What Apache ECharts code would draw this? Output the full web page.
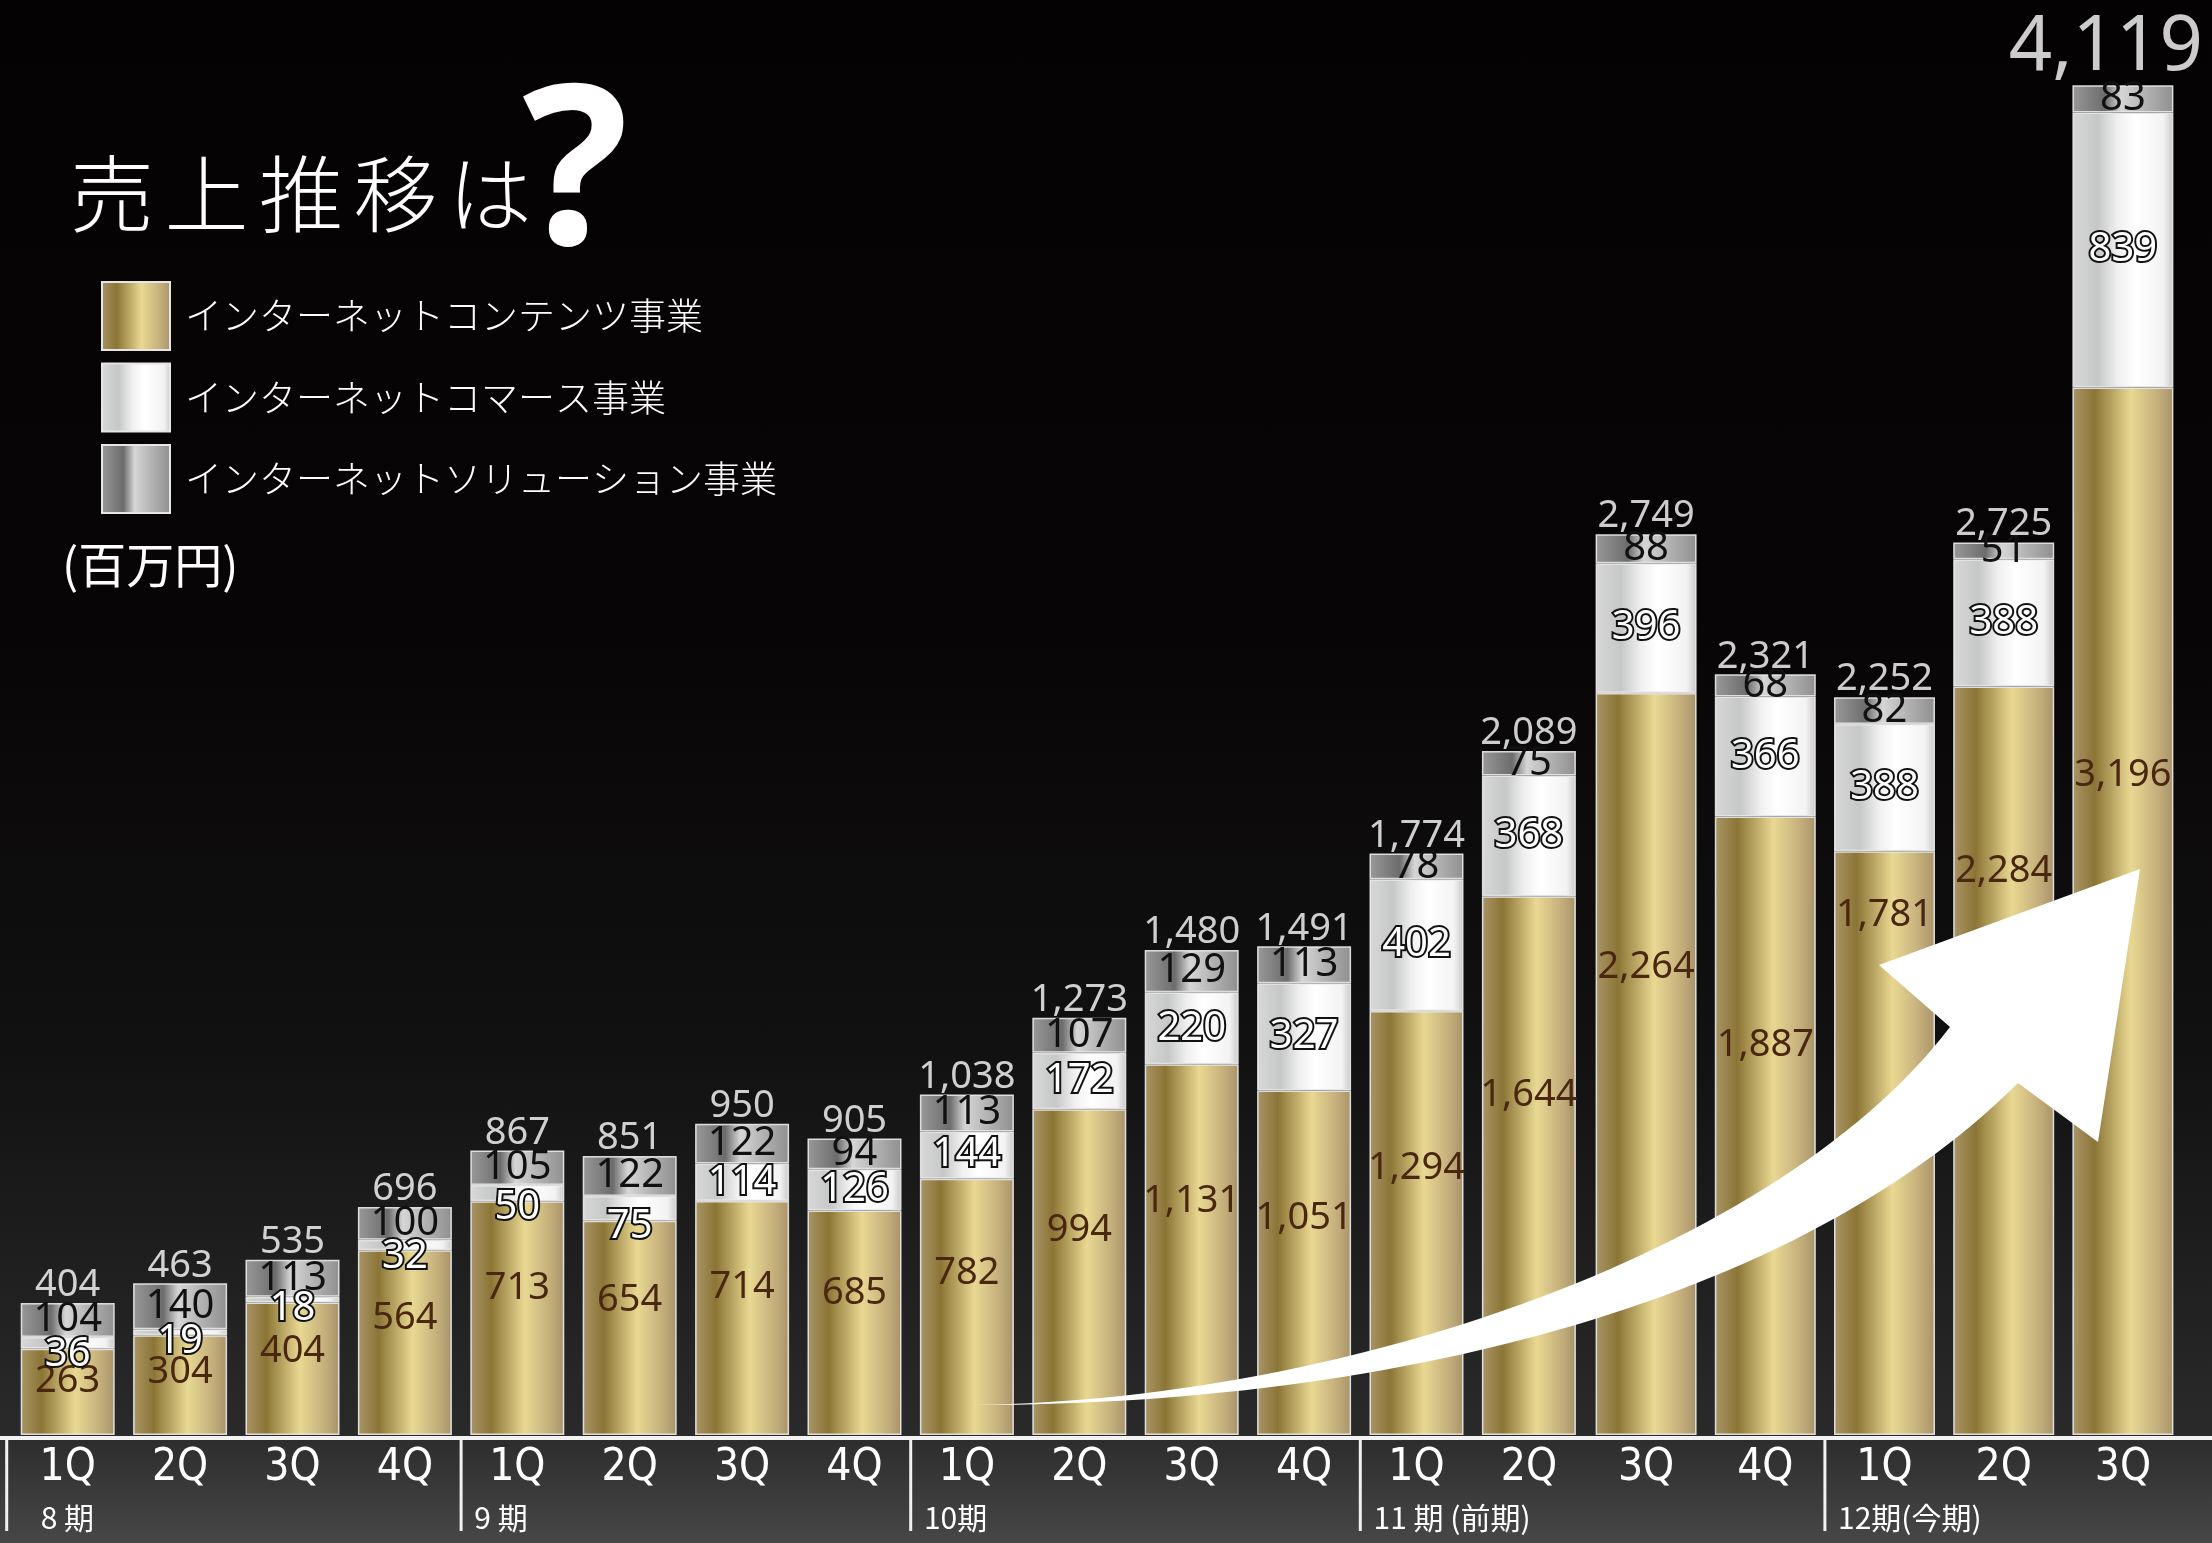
<!DOCTYPE html>
<html lang="ja">
<head>
<meta charset="utf-8">
<title>売上推移</title>
<script src="https://cdn.jsdelivr.net/npm/echarts@6/dist/echarts.min.js"></script>
<style>
  html, body { margin: 0; padding: 0; }
  #chart {
    width: 2212px; height: 1543px;
    background: linear-gradient(to bottom,
      #040202 0px, #070505 620px, #121111 1050px, #2a2a2a 1436px,
      #2d2d2d 1440px, #474747 1543px);
  }
</style>
</head>
<body>
<div id="chart"></div>
<script>
// Quarter labels along the bottom
const quarters = ['1Q','2Q','3Q','4Q','1Q','2Q','3Q','4Q','1Q','2Q','3Q','4Q','1Q','2Q','3Q','4Q','1Q','2Q','3Q'];
// Fiscal periods and the quarter index where each one starts
const periodNames = ['8 期', '9 期', '10期', '11 期 (前期)', '12期(今期)'];
const periodStarts = [0, 4, 8, 12, 16];

// Sales by segment (百万円)
const contents = [263, 304, 404, 564, 713, 654, 714, 685, 782, 994, 1131, 1051, 1294, 1644, 2264, 1887, 1781, 2284, 3196];
const commerce = [36, 19, 18, 32, 50, 75, 114, 126, 144, 172, 220, 327, 402, 368, 396, 366, 388, 388, 839];
const solution = [104, 140, 113, 100, 105, 122, 122, 94, 113, 107, 129, 113, 78, 75, 88, 68, 82, 51, 83];
const totals = [404, 463, 535, 696, 867, 851, 950, 905, 1038, 1273, 1480, 1491, 1774, 2089, 2749, 2321, 2252, 2725, 4119];

const seriesNames = ['インターネットコンテンツ事業', 'インターネットコマース事業', 'インターネットソリューション事業'];

// The last five quarters sit in a slightly wider second grid
const SPLIT = 14;

const NUM_FONT = "'Noto Sans', 'DejaVu Sans', sans-serif";
const JP_FONT = "'Noto Sans CJK JP', 'Noto Sans', sans-serif";
const NARROW_FONT = "'Liberation Sans Narrow', 'DejaVu Sans Condensed', 'Roboto Condensed', 'Noto Sans', sans-serif";

const LG = echarts.graphic.LinearGradient;
const goldFill = new LG(0, 0, 1, 0, [
  { offset: 0, color: '#a99567' }, { offset: 0.22, color: '#8b7536' },
  { offset: 0.58, color: '#e9d892' }, { offset: 0.85, color: '#c3ae7b' },
  { offset: 1, color: '#a8936a' }
]);
const whiteFill = new LG(0, 0, 1, 0, [
  { offset: 0, color: '#d8d8d8' }, { offset: 0.25, color: '#c6c7c7' },
  { offset: 0.45, color: '#f0f0f0' }, { offset: 0.62, color: '#ffffff' },
  { offset: 0.9, color: '#f3f3f3' }, { offset: 1, color: '#c8c8c8' }
]);
const grayFill = new LG(0, 0, 1, 0, [
  { offset: 0, color: '#999999' }, { offset: 0.32, color: '#6c6c6c' },
  { offset: 0.48, color: '#d6d6d6' }, { offset: 0.72, color: '#b3b3b3' },
  { offset: 1, color: '#8f8f8f' }
]);

const fmt = v => Number(v).toLocaleString('en-US');
const maxTotal = Math.max(...totals);

// Growth arrow outline (decoration), sampled from two cubic curves plus the head
function cubicPts(p0, p1, p2, p3, n) {
  const pts = [];
  for (let k = 0; k <= n; k++) {
    const t = k / n, u = 1 - t;
    const a = u * u * u, b = 3 * u * u * t, c = 3 * u * t * t, d = t * t * t;
    pts.push([a * p0[0] + b * p1[0] + c * p2[0] + d * p3[0], a * p0[1] + b * p1[1] + c * p2[1] + d * p3[1]]);
  }
  return pts;
}
const arrowPts = []
  .concat(cubicPts([972, 1405], [1400, 1405], [1800, 1300], [2018, 1083], 60))
  .concat([[2098, 1142], [2140, 869], [1879, 965]])
  .concat(cubicPts([1950, 1027], [1780, 1250], [1350, 1400], [972, 1405], 60));

function insideArrow(x, y) {
  let inside = false;
  for (let i = 0, j = arrowPts.length - 1; i < arrowPts.length; j = i++) {
    const xi = arrowPts[i][0], yi = arrowPts[i][1], xj = arrowPts[j][0], yj = arrowPts[j][1];
    if ((yi > y) !== (yj > y) && x < (xj - xi) * (y - yi) / (yj - yi) + xi) inside = !inside;
  }
  return inside;
}
function boxHitsArrow(x, y, w, h) {
  const m = 6;
  const xs = [x - m, x + w / 2, x + w + m], ys = [y - m, y + h / 2, y + h + m];
  return xs.some(px => ys.some(py => insideArrow(px, py)));
}

const barWidths = [94, 101];
const barBorder = { borderColor: 'rgba(236,236,236,0.9)', borderWidth: 1.5 };

function seriesFor(g, from, to) {
  const common = { type: 'bar', xAxisIndex: g, yAxisIndex: g, stack: 'sales' + g, barWidth: barWidths[g] };
  return [
    Object.assign({}, common, {
      name: seriesNames[0], data: contents.slice(from, to),
      itemStyle: Object.assign({ color: goldFill }, barBorder),
      label: {
        show: true, position: ['50%', '37%'], align: 'center', verticalAlign: 'middle',
        color: '#4a2810', fontSize: 38, fontFamily: NUM_FONT,
        formatter: p => fmt(p.value)
      },
      // keep the figures clear of the arrow: slide them up above its edge
      labelLayout: function (p) {
        const r = p.labelRect;
        let y = r.y;
        while (boxHitsArrow(r.x, y, r.width, r.height) && y > p.rect.y + 8) y -= 4;
        if (y === r.y) return {};
        return { y: y + r.height / 2, verticalAlign: 'middle', align: 'center' };
      }
    }),
    Object.assign({}, common, {
      name: seriesNames[1], data: commerce.slice(from, to),
      itemStyle: Object.assign({ color: whiteFill }, barBorder),
      label: {
        show: true, position: 'inside', color: '#ffffff', fontSize: 40,
        fontFamily: NUM_FONT, textBorderColor: '#111111', textBorderWidth: 4
      },
      // thin segments: let the number hang just below the segment
      labelLayout: function (p) {
        if (p.rect.height < 30) {
          return { y: p.rect.y + p.rect.height + 6, verticalAlign: 'middle', align: 'center' };
        }
        return {};
      }
    }),
    Object.assign({}, common, {
      name: seriesNames[2], data: solution.slice(from, to),
      itemStyle: Object.assign({ color: grayFill }, barBorder),
      label: { show: true, position: 'inside', color: '#111111', fontSize: 40, fontFamily: NUM_FONT }
    }),
    {
      name: 'total', type: 'scatter', xAxisIndex: g, yAxisIndex: g,
      data: totals.slice(from, to), symbolSize: 1, itemStyle: { color: 'transparent' },
      silent: true, z: 5,
      label: {
        show: true, position: 'top', distance: -2,
        formatter: p => (p.value === maxTotal ? '{big|' : '{n|') + fmt(p.value) + '}',
        rich: {
          n: { color: '#ffffff', fontSize: 38, fontFamily: NUM_FONT },
          big: { color: '#ffffff', fontSize: 76, fontFamily: NUM_FONT, padding: [0, 34, 0, 0] }
        }
      }
    }
  ];
}

const xAxisCommon = {
  type: 'category',
  axisLine: { show: false }, axisTick: { show: false }, splitLine: { show: false },
  axisLabel: { color: '#ffffff', fontSize: 44, fontFamily: NARROW_FONT, margin: 12, interval: 0 }
};
const yAxisCommon = { type: 'value', min: 0, max: maxTotal, show: false, splitLine: { show: false } };

const chart = echarts.init(document.getElementById('chart'), null, { renderer: 'canvas' });

chart.setOption({
  backgroundColor: 'transparent',
  animation: false,
  legend: {
    orient: 'vertical', left: 96, top: 276,
    itemWidth: 68, itemHeight: 68, itemGap: 11.5, icon: 'rect',
    itemStyle: { borderColor: '#e6e6e6', borderWidth: 2 },
    textStyle: { color: '#ffffff', fontSize: 37, fontFamily: JP_FONT, fontWeight: 300, padding: [0, 0, 0, 10] },
    data: seriesNames, selectedMode: false
  },
  grid: [
    { left: 11.5, top: 85, width: 1573.6, height: 1350 },
    { left: 1586.5, top: 85, width: 596, height: 1350 }
  ],
  xAxis: [
    Object.assign({ gridIndex: 0, data: quarters.slice(0, SPLIT) }, xAxisCommon),
    Object.assign({ gridIndex: 1, data: quarters.slice(SPLIT) }, xAxisCommon)
  ],
  yAxis: [
    Object.assign({ gridIndex: 0 }, yAxisCommon),
    Object.assign({ gridIndex: 1 }, yAxisCommon)
  ],
  series: seriesFor(0, 0, SPLIT).concat(seriesFor(1, SPLIT, quarters.length))
});

// pixel centre of quarter i on its own axis
function qx(i) {
  return i < SPLIT
    ? chart.convertToPixel({ xAxisIndex: 0 }, i)
    : chart.convertToPixel({ xAxisIndex: 1 }, i - SPLIT);
}
function halfBar(i) { return barWidths[i < SPLIT ? 0 : 1] / 2; }

const AXIS_Y = 1436;
const graphics = [];

// white baseline under the bars
graphics.push({ type: 'rect', shape: { x: 0, y: AXIS_Y, width: 2212, height: 4 }, style: { fill: '#f2f2f2' }, z: 1 });

// period separators and period names
periodStarts.forEach((s, k) => {
  const sepX = s === 0 ? qx(0) - 61 : (qx(s - 1) + qx(s)) / 2;
  graphics.push({ type: 'rect', shape: { x: sepX - 1.5, y: AXIS_Y, width: 3, height: 95 }, style: { fill: '#f2f2f2' }, z: 1 });
  const lx = s === 0 ? qx(0) - halfBar(0) + 20 : qx(s) - halfBar(s) + 4;
  graphics.push({
    type: 'text', x: lx, y: 1518, z: 1,
    style: { text: periodNames[k], fill: '#ffffff', fontSize: 30, fontFamily: JP_FONT, align: 'left', verticalAlign: 'middle' }
  });
});

// heading
const heading = '売上推移は';
for (let i = 0; i < heading.length; i++) {
  graphics.push({
    type: 'text', x: 70 + i * 94.5, y: 194, z: 1,
    style: { text: heading[i], fill: '#ffffff', fontSize: 84, fontFamily: JP_FONT, fontWeight: 300, align: 'left', verticalAlign: 'middle' }
  });
}
graphics.push({
  type: 'text', x: 522, y: 181, z: 1,
  style: { text: '?', fill: '#ffffff', fontSize: 222, fontFamily: NUM_FONT, fontWeight: 'bold', align: 'left', verticalAlign: 'middle' }
});

// unit note
graphics.push({
  type: 'text', x: 62, y: 565, z: 1,
  style: { text: '(百万円)', fill: '#ffffff', fontSize: 48, fontFamily: JP_FONT, align: 'left', verticalAlign: 'middle' }
});

// the arrow itself
graphics.push({ type: 'polygon', z: 50, shape: { points: arrowPts }, style: { fill: '#ffffff' } });

chart.setOption({ graphic: graphics });
</script>
</body>
</html>
